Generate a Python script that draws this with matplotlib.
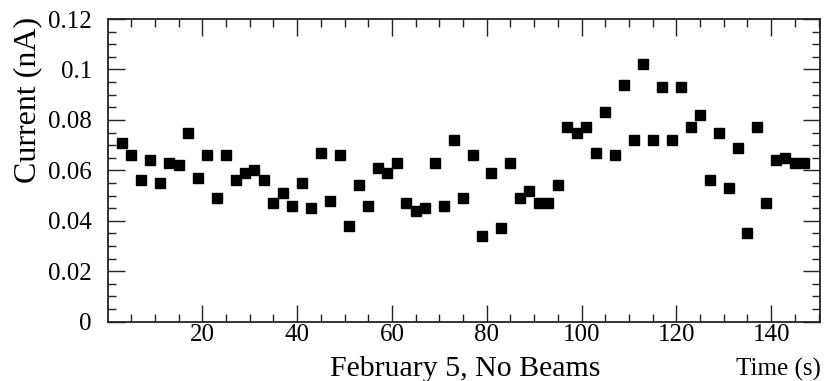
import numpy as np
import matplotlib.pyplot as plt
from matplotlib.ticker import MultipleLocator, FuncFormatter

plt.rcParams['font.family'] = ['Liberation Serif', 'DejaVu Serif']

# time of each reading (s) and measured current (nA)
time_s = np.arange(3, 149, 2)
current = [0.071, 0.066, 0.056, 0.064, 0.055, 0.063, 0.062, 0.075, 0.057, 0.066,
           0.049, 0.066, 0.056, 0.059, 0.060, 0.056, 0.047, 0.051, 0.046, 0.055,
           0.045, 0.067, 0.048, 0.066, 0.038, 0.054, 0.046, 0.061, 0.059, 0.063,
           0.047, 0.044, 0.045, 0.063, 0.046, 0.072, 0.049, 0.066, 0.034, 0.059,
           0.037, 0.063, 0.049, 0.052, 0.047, 0.047, 0.054, 0.077, 0.075, 0.077,
           0.067, 0.083, 0.066, 0.094, 0.072, 0.102, 0.072, 0.093, 0.072, 0.093,
           0.077, 0.082, 0.056, 0.075, 0.053, 0.069, 0.035, 0.077, 0.047, 0.064,
           0.065, 0.063, 0.063]

fig = plt.figure(figsize=(8.25, 3.81), dpi=100)
ax = fig.add_axes([0.1315, 0.1556, 0.863, 0.7945])

ax.plot(time_s, current, 's', color='black', markersize=7.5)

ax.set_xlim(0.2, 150.4)
ax.set_ylim(0, 0.12)
ax.xaxis.set_major_locator(MultipleLocator(20))
ax.xaxis.set_minor_locator(MultipleLocator(5))
ax.yaxis.set_major_locator(MultipleLocator(0.02))
ax.yaxis.set_minor_locator(MultipleLocator(0.005))
ax.yaxis.set_major_formatter(FuncFormatter(lambda v, p: "%g" % round(v, 3)))
ax.tick_params(which='both', direction='in', top=True, right=True,
               labelsize=18, color='#222222', width=1)
ax.tick_params(which='major', length=12)
ax.tick_params(which='minor', length=6)
ax.tick_params(axis='x', which='major', pad=2)
ax.tick_params(axis='y', which='major', pad=12)
for s in ax.spines.values():
    s.set_linewidth(1.3)
    s.set_color('#222222')

fig.text(0.4, 5 / 381, "February 5, No Beams", fontsize=21.5, ha='left', va='baseline')
fig.text(0.995, 5 / 381, "Time (s)", fontsize=18, ha='right', va='baseline')
fig.text(0.033, 0.955, "Current (nA)", fontsize=23, rotation=90, ha='center', va='top')

plt.savefig("out.png", dpi=100)
plt.close()
